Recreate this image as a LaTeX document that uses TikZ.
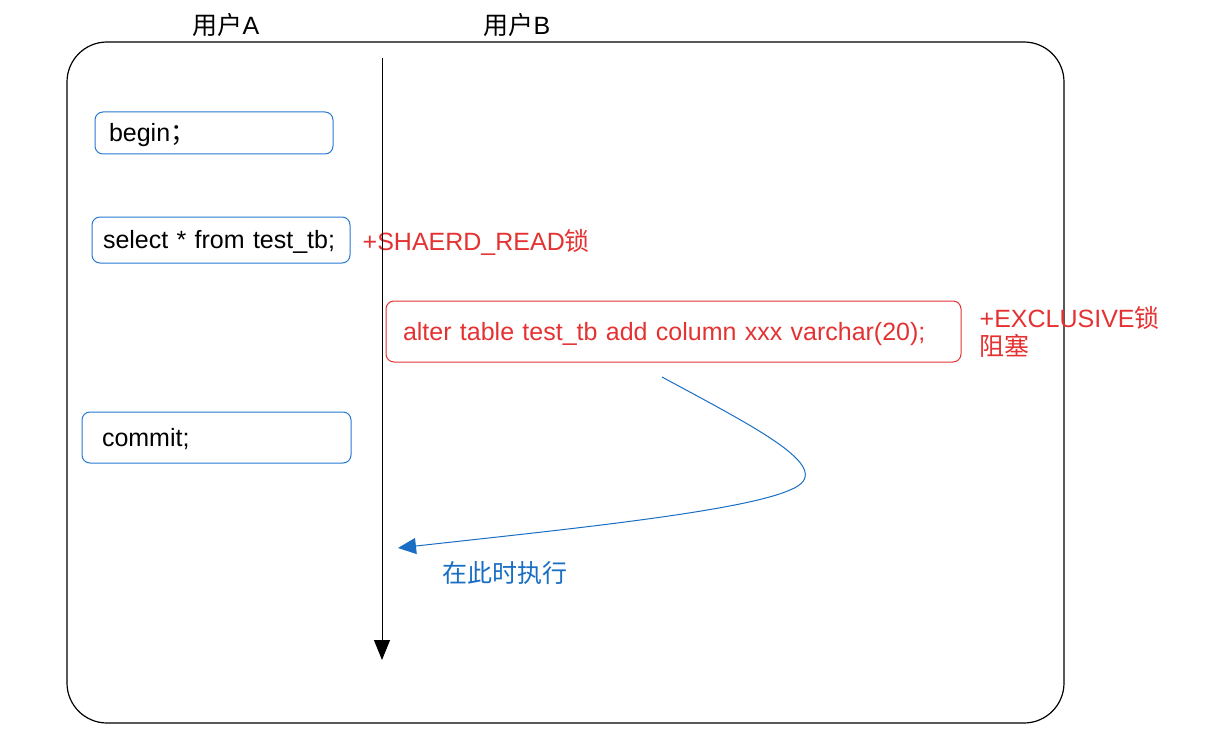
\documentclass[tikz,border=0pt]{standalone}
\usepackage{fontspec}
\setmainfont{Liberation Sans}
\newfontfamily\cjk{Noto Sans CJK SC}
\usepackage{xcolor}
\usetikzlibrary{arrows.meta, positioning}

\definecolor{boxblue}{RGB}{40,120,210}
\definecolor{lockred}{RGB}{228,50,50}
\definecolor{noteblue}{RGB}{25,110,195}

\begin{document}
\begin{tikzpicture}[x=1pt, y=-1pt, font=\fontsize{25}{28}\selectfont,
        stmt/.style={draw=boxblue, line width=1pt, rounded corners=8pt, align=left, text depth=1pt},
        lock/.style={text=lockred, inner sep=0pt, align=left}]
        \useasboundingbox (0,0) rectangle (1219,749);
        \draw[line width=1.2pt, rounded corners=40pt] (67,42) rectangle (1064,723);

        \node (ua) at (226,25) {{\cjk 用户}A};
        \node (ub) at (517,25) {{\cjk 用户}B};
        \coordinate (top) at (382,58);
        \coordinate (bot) at (382,660);

        \node[stmt, text width=210pt, inner xsep=14pt, minimum height=42pt] (begin) at (214,133) {begin{\cjk ；}};
        \node[stmt, text width=236pt, inner xsep=11pt, minimum height=46pt] (sel) at (221,240) {select * from test\_tb;};
        \node[lock, right=12pt of sel, yshift=-2pt] (shared) {+SHAERD\_READ{\cjk 锁}};
        \node[stmt, draw=lockred, text=lockred, text width=541pt, inner xsep=17pt, minimum height=61pt] (alter) at (673.5,331.5) {alter table test\_tb add column xxx varchar(20);};
        \node[lock, right=18pt of alter] (excl) {+EXCLUSIVE{\cjk 锁}\\{\cjk 阻塞}};
        \node[stmt, text width=229pt, inner xsep=20pt, minimum height=51pt] (commit) at (216.5,437.5) {commit;};

        \coordinate (wait) at (662,377);
        \coordinate (run) at (398,548);
        \node[text=noteblue] (note) at (505,573) {{\cjk 在此时执行}};

        \draw[line width=1pt, -{Triangle[width=16pt,length=20pt]}] (top) -- (bot);
        \draw[noteblue, line width=1pt, -{Triangle[width=16pt,length=18pt]}]
        (wait) .. controls (760,430) and (840,470) .. (790,490)
        .. controls (740,512) and (560,530) .. (run);

    \end{tikzpicture}
\end{document}
